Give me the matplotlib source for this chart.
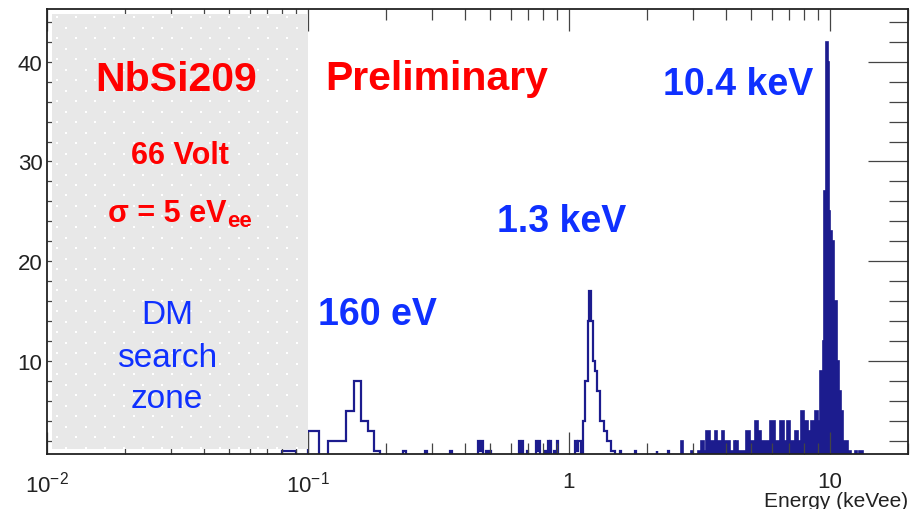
import numpy as np
import matplotlib
matplotlib.use("Agg")
import matplotlib.pyplot as plt
import matplotlib.transforms as mtransforms
from matplotlib.patches import Rectangle
from matplotlib.ticker import LogLocator, MultipleLocator, NullFormatter

plt.rcParams['font.family'] = ['Liberation Sans', 'DejaVu Sans']

# 160 eV line and the few single events below 1 keV (keVee, counts)
low_edges = [0.08, 0.09, 0.10, 0.11, 0.12, 0.13, 0.14, 0.15, 0.16, 0.17, 0.18, 0.19,
             0.232, 0.237, 0.281, 0.286, 0.350, 0.356, 0.448, 0.454, 0.461, 0.468,
             0.484, 0.490, 0.500, 0.506, 0.645, 0.652, 0.662, 0.669, 0.690, 0.697,
             0.748, 0.755, 0.772, 0.779, 0.810, 0.817, 0.835, 0.842, 0.848, 0.855,
             0.880, 0.888, 0.905, 0.912, 1.055]
low_counts = [1, 0, 3, 0, 2, 2, 5, 8, 4, 3, 1,
              0, 1, 0, 1, 0, 1, 0, 2, 1, 2, 0,
              1, 0, 1, 0, 2, 0, 2, 0, 1, 0,
              2, 1, 2, 0, 1, 0, 2, 0, 2, 0,
              1, 0, 2, 0]

# 1.3 keV line
mid_edges = [1.055, 1.075, 1.090, 1.110, 1.134, 1.158, 1.185, 1.200, 1.221, 1.239,
             1.258, 1.283, 1.322, 1.360, 1.400, 1.456, 1.500, 1.575, 1.582, 1.795,
             1.805, 2.170, 2.180, 2.400, 2.415, 2.700]
mid_counts = [2, 1, 2, 0, 4, 8, 14, 17, 14, 10,
              9, 7, 4, 3, 2, 1, 0, 1, 0, 1,
              0, 1, 0, 1, 0]

# background and 10.4 keV line
high_edges = [2.70, 2.74, 2.93, 3.00, 3.14, 3.22, 3.29, 3.37, 3.49, 3.65,
              3.71, 3.85, 3.95, 4.16, 4.28, 4.33, 4.39, 4.45, 4.79, 4.97,
              5.19, 5.33, 5.47, 5.92, 6.19, 6.47, 6.70, 6.88, 7.06, 7.38,
              7.58, 7.78, 7.99, 8.28, 8.50, 8.80, 9.04, 9.20, 9.39, 9.53,
              9.64, 9.81, 9.90, 9.98, 10.22, 10.40, 10.62, 10.84, 11.04, 11.26,
              11.77, 12.09, 12.50, 12.70, 13.00, 13.40]
high_counts = [2, 0, 1, 0, 1, 2, 1, 3, 2, 3,
               2, 3, 2, 1, 2, 1, 2, 1, 3, 2,
               4, 3, 2, 4, 2, 4, 2, 4, 2, 3,
               2, 5, 4, 3, 4, 5, 4, 9, 12, 27,
               42, 40, 25, 23, 22, 16, 10, 7, 5, 2,
               1, 0, 1, 0, 1]

xtick_pos = [0.01, 0.1, 1, 10]
xtick_lab = [r'$\mathdefault{10^{-2}}$', r'$\mathdefault{10^{-1}}$', '1', '10']

W, H = 915, 510
navy = '#1c1c8e'
red = '#ff0000'
blue = '#0f30ff'


def px(x, y):
    return x / W, 1 - y / H


fig = plt.figure(figsize=(W / 100, H / 100), dpi=100)
ax = fig.add_axes([46.7 / W, 55 / H, 861.6 / W, 445 / H])

ax.stairs(low_counts, low_edges, color=navy, lw=1.6)
ax.stairs(mid_counts, mid_edges, color=navy, lw=1.6)
ax.stairs(high_counts, high_edges, color=navy, fill=True)
ax.stairs(high_counts, high_edges, color=navy, lw=1.2)

ax.set_xscale('log')
ax.set_xlim(0.01, 20)
ax.set_ylim(0.65, 45.3)
ax.set_xticks(xtick_pos, labels=xtick_lab)
ax.xaxis.set_minor_locator(LogLocator(base=10, subs=np.arange(2, 10), numticks=20))
ax.xaxis.set_minor_formatter(NullFormatter())
ax.yaxis.set_major_locator(MultipleLocator(10))
ax.yaxis.set_minor_locator(MultipleLocator(2))

ax.tick_params(which='both', direction='in', top=True, right=True,
               color='#444444', width=0.9, labelsize=16, labelcolor='#222222')
ax.tick_params(axis='x', which='major', length=16, pad=12)
ax.tick_params(axis='x', which='minor', length=8)
ax.tick_params(axis='y', which='major', length=29, pad=3)
ax.tick_params(axis='y', which='minor', length=14)
for s in ax.spines.values():
    s.set_linewidth(1.3)
    s.set_color('#222222')

# grey "DM search zone" box, slightly inset from the frame
trans = mtransforms.blended_transform_factory(ax.transData, ax.transAxes)
x0 = 10 ** (-2 + 5 / 261.5)
ax.add_patch(Rectangle((x0, 5 / 445), 0.1 - x0, 1 - 10 / 445, transform=trans,
                       facecolor='#e8e8e8', edgecolor='none', zorder=3))
dx, dy = [], []
for j, yy in enumerate(np.arange(8, 440, 10.5)):
    for xx in np.arange(10 + (j % 2) * 9.6, 258, 19.2):
        dx.append(xx / 861.6)
        dy.append(1 - yy / 445)
ax.scatter(dx, dy, s=4, marker='s', color='white', linewidths=0,
           transform=ax.transAxes, zorder=3.1)

bold = dict(weight='bold', va='baseline')
fig.text(*px(95, 91), 'NbSi209', fontsize=29.5, color=red, **bold)
fig.text(*px(325, 90), 'Preliminary', fontsize=29.5, color=red, **bold)
fig.text(*px(180, 164), '66 Volt', fontsize=22, color=red, ha='center', **bold)
sig = fig.text(*px(108, 222), 'σ = 5 eV', fontsize=22, color=red, **bold)
ax.annotate('ee', xy=(1, 0), xycoords=sig, xytext=(0.5, 1.5), textcoords='offset points',
            fontsize=16, color=red, weight='bold', va='baseline', ha='left')

for txt, yb in [('DM', 324), ('search', 367), ('zone', 408)]:
    fig.text(*px(167, yb), txt, fontsize=24, color=blue, ha='center', va='baseline')

fig.text(*px(318, 325), '160 eV', fontsize=27, color=blue, **bold)
fig.text(*px(497, 232), '1.3 keV', fontsize=27, color=blue, **bold)
fig.text(*px(663, 95), '10.4 keV', fontsize=27, color=blue, **bold)

fig.text(*px(908, 492), 'Energy (keVee)', fontsize=15, color='#222222',
         ha='right', va='top')

fig.savefig('out.png', dpi=100)
